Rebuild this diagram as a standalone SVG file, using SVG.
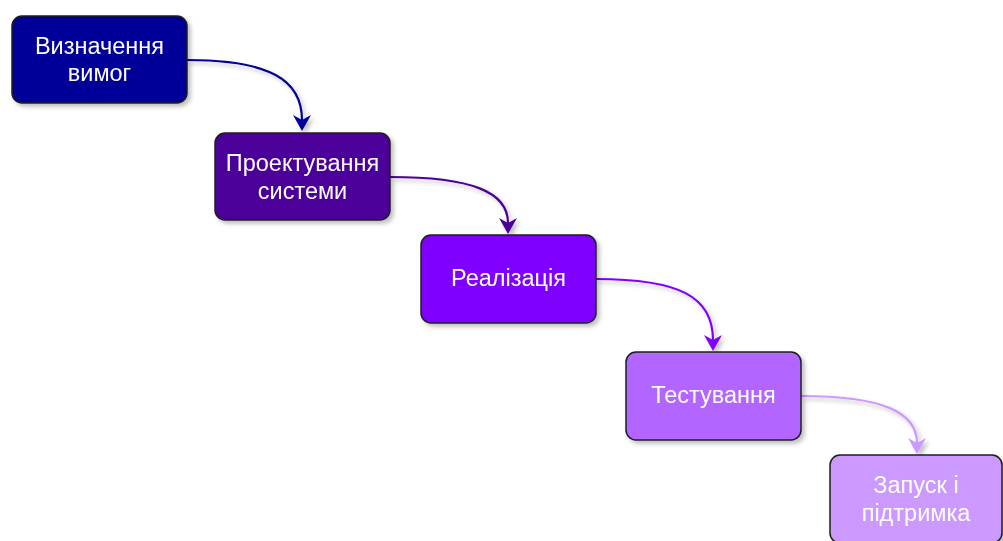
<svg xmlns="http://www.w3.org/2000/svg" width="1003" height="541" viewBox="0 0 1003 541">
<style>
.node rect{stroke:#1f1f1f;stroke-width:1.5}
.node text{font-family:"Liberation Sans",Arial,sans-serif;font-size:23.5px;fill:#ffffff;text-anchor:middle}
.edge{fill:none;stroke-width:2.2}
</style>
<defs>
<filter id="sh" x="-20%" y="-20%" width="150%" height="150%">
<feDropShadow dx="3" dy="3" stdDeviation="2" flood-color="#000" flood-opacity="0.25"/>
</filter>
<marker id="a1" markerUnits="userSpaceOnUse" markerWidth="22" markerHeight="22" viewBox="0 -11 22 22" refX="5" refY="0" orient="auto"><path d="M0,-9 L16,0 L0,9 L5,0 Z" fill="#000099"/></marker>
<marker id="a2" markerUnits="userSpaceOnUse" markerWidth="22" markerHeight="22" viewBox="0 -11 22 22" refX="5" refY="0" orient="auto"><path d="M0,-9 L16,0 L0,9 L5,0 Z" fill="#4C0099"/></marker>
<marker id="a3" markerUnits="userSpaceOnUse" markerWidth="22" markerHeight="22" viewBox="0 -11 22 22" refX="5" refY="0" orient="auto"><path d="M0,-9 L16,0 L0,9 L5,0 Z" fill="#7F00FF"/></marker>
<marker id="a4" markerUnits="userSpaceOnUse" markerWidth="22" markerHeight="22" viewBox="0 -11 22 22" refX="5" refY="0" orient="auto"><path d="M0,-9 L16,0 L0,9 L5,0 Z" fill="#CC99FF"/></marker>
</defs>
<g id="connectors" filter="url(#sh)">
<path class="edge" stroke="#000099" marker-end="url(#a1)" d="M187,60 C270,60 302,80 302,120"/>
<path class="edge" stroke="#4C0099" marker-end="url(#a2)" d="M390,177 C472,177 508,192 508,223"/>
<path class="edge" stroke="#7F00FF" marker-end="url(#a3)" d="M596,279 C680,279 713,297 713,340"/>
<path class="edge" stroke="#CC99FF" marker-end="url(#a4)" d="M801,396 C882,396 917,412 917,443"/>
</g>
<g id="n1" class="node" filter="url(#sh)">
<rect x="12" y="16" width="175" height="87" rx="10" fill="#000099"/>
<text x="99.5" y="54">Визначення</text>
<text x="99.5" y="81">вимог</text>
</g>
<g id="n2" class="node" filter="url(#sh)">
<rect x="215" y="133" width="175" height="87" rx="10" fill="#4C0099"/>
<text x="302.5" y="171">Проектування</text>
<text x="302.5" y="199">системи</text>
</g>
<g id="n3" class="node" filter="url(#sh)">
<rect x="421" y="235" width="175" height="88" rx="10" fill="#7F00FF"/>
<text x="508.5" y="286">Реалізація</text>
</g>
<g id="n4" class="node" filter="url(#sh)">
<rect x="626" y="352" width="175" height="88" rx="10" fill="#B266FF"/>
<text x="713.5" y="403">Тестування</text>
</g>
<g id="n5" class="node" filter="url(#sh)">
<rect x="830" y="455" width="172" height="88" rx="10" fill="#CC99FF"/>
<text x="916" y="493">Запуск і</text>
<text x="916" y="521">підтримка</text>
</g>
</svg>
